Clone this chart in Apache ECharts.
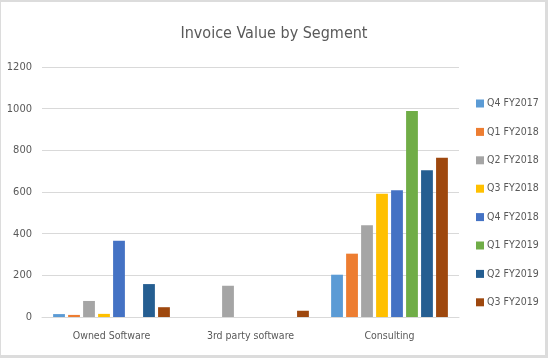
<!DOCTYPE html>
<html><head><meta charset="utf-8">
<script src="https://cdn.jsdelivr.net/npm/echarts@6/dist/echarts.min.js"></script>
<style>html,body{margin:0;padding:0;background:#fff}#c{width:548px;height:358px}</style>
</head><body><div id="c"></div>
<script>
const categories = ['Owned Software', '3rd party software', 'Consulting'];
const seriesNames = ['Q4 FY2017','Q1 FY2018','Q2 FY2018','Q3 FY2018','Q4 FY2018','Q1 FY2019','Q2 FY2019','Q3 FY2019'];
const q4fy2017 = [14, 0, 203];
const q1fy2018 = [10, 0, 304];
const q2fy2018 = [77, 150, 440];
const q3fy2018 = [15, 0, 592];
const q4fy2018 = [366, 0, 608];
const q1fy2019 = [0, 0, 989];
const q2fy2019 = [158, 0, 704];
const q3fy2019 = [47, 30, 765];
const yTicks = [0, 200, 400, 600, 800, 1000, 1200];
const colors = ['#5B9BD5','#ED7D31','#A5A5A5','#FFC000','#4472C4','#70AD47','#255E91','#9E480E'];
const allValues = [q4fy2017,q1fy2018,q2fy2018,q3fy2018,q4fy2018,q1fy2019,q2fy2019,q3fy2019];

const font = "'DejaVu Sans Condensed', Roboto, sans-serif";
const chart = echarts.init(document.getElementById('c'), null, {renderer:'canvas'});
chart.setOption({
  backgroundColor: '#DCDCDC',
  animation: false,
  graphic: [{type:'rect', z:-10, silent:true, shape:{x:1,y:2,width:544,height:353}, style:{fill:'#ffffff'}}],
  title: {text:'Invoice Value by Segment', left:'center', top:21, textStyle:{fontFamily:font, fontSize:16, fontWeight:'normal', color:'#595959'}},
  color: colors,
  legend: {
    orient:'vertical', left:471, top:93, itemWidth:8, itemHeight:8, itemGap:17.4, icon:'rect',
    textStyle:{fontFamily:font, fontSize:10.5, color:'#595959', padding:[0,0,0,-2]},
    data: seriesNames
  },
  grid: {left:42, right:89, top:67, bottom:41, containLabel:false},
  xAxis: {
    type:'category', data:categories,
    axisLine:{lineStyle:{color:'#D9D9D9'}}, axisTick:{show:false},
    axisLabel:{fontFamily:font, fontSize:10.5, color:'#595959', margin:14}
  },
  yAxis: {
    type:'value', min:yTicks[0], max:yTicks[yTicks.length-1], interval:200,
    axisLine:{show:false}, axisTick:{show:false},
    splitLine:{lineStyle:{color:'#D9D9D9'}},
    axisLabel:{fontFamily:font, fontSize:11, color:'#595959', margin:10, formatter:(v)=>String(v)}
  },
  series: seriesNames.map((n,i)=>({
    name:n, type:'bar', data:allValues[i],
    barGap:'27%', barCategoryGap:'16%',
    itemStyle:{color:colors[i]}
  }))
});
</script></body></html>
